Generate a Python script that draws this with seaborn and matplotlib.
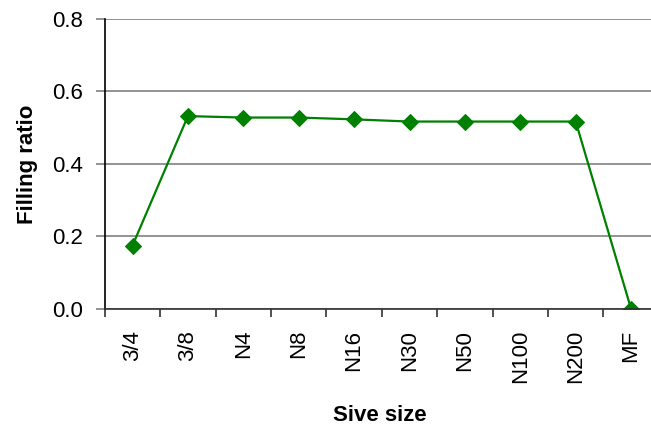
import matplotlib
matplotlib.use("Agg")
import matplotlib.pyplot as plt
import seaborn as sns
import pandas as pd
from matplotlib.ticker import FixedLocator

# Sieve sizes and measured filling ratios
sizes = ["3/4", "3/8", "N4", "N8", "N16", "N30", "N50", "N100", "N200", "MF"]
filling_ratio = [0.175, 0.532, 0.528, 0.528, 0.523, 0.517, 0.517, 0.517, 0.517, 0.0]

df = pd.DataFrame({"size": sizes, "ratio": filling_ratio})

sns.set_style("white")
plt.rcParams["font.family"] = ["Liberation Sans", "DejaVu Sans"]
plt.rcParams["text.color"] = "black"
plt.rcParams["axes.labelcolor"] = "black"
plt.rcParams["xtick.color"] = "black"
plt.rcParams["ytick.color"] = "black"

fig = plt.figure(figsize=(6.51, 4.26), dpi=100)
ax = fig.add_axes([0.161, 0.2746, 0.851, 0.681])

sns.lineplot(data=df, x="size", y="ratio", ax=ax, color="#008000",
             marker="D", markersize=8, markeredgecolor="#008000",
             linewidth=1.6, sort=False)

ax.set_xlim(-0.5, len(sizes) - 0.5)
ax.set_ylim(0, 0.8)
ax.set_yticks([0.0, 0.2, 0.4, 0.6, 0.8])
ax.set_yticklabels(["0.0", "0.2", "0.4", "0.6", "0.8"], fontsize=16)
ax.yaxis.grid(True, color="#808080", linewidth=1.2)
ax.set_axisbelow(True)

# Category labels at centres, tick marks on the boundaries
ax.set_xticks(range(len(sizes)))
ax.set_xticklabels(sizes, rotation=90, fontsize=16)
ax.xaxis.set_minor_locator(FixedLocator([i - 0.5 for i in range(len(sizes) + 1)]))
ax.tick_params(axis="x", which="major", length=0, pad=15)
ax.tick_params(axis="x", which="minor", length=6, width=1.2, color="#333333",
               direction="out", bottom=True)
ax.tick_params(axis="y", which="major", length=6.5, width=1.2, color="#808080",
               labelcolor="black", direction="out", left=True, pad=9)

for side in ["top", "right"]:
    ax.spines[side].set_visible(False)
ax.spines["left"].set_color("black")
ax.spines["left"].set_linewidth(1.2)
ax.spines["bottom"].set_color("#333333")
ax.spines["bottom"].set_linewidth(1.2)

ax.set_xlabel("Sive size", fontsize=16, fontweight="bold")
ax.set_ylabel("Filling ratio", fontsize=16, fontweight="bold")
ax.xaxis.set_label_coords(0.4957, -0.33)
ax.yaxis.set_label_coords(-0.12, 0.5)

fig.savefig("out.png", dpi=100)
